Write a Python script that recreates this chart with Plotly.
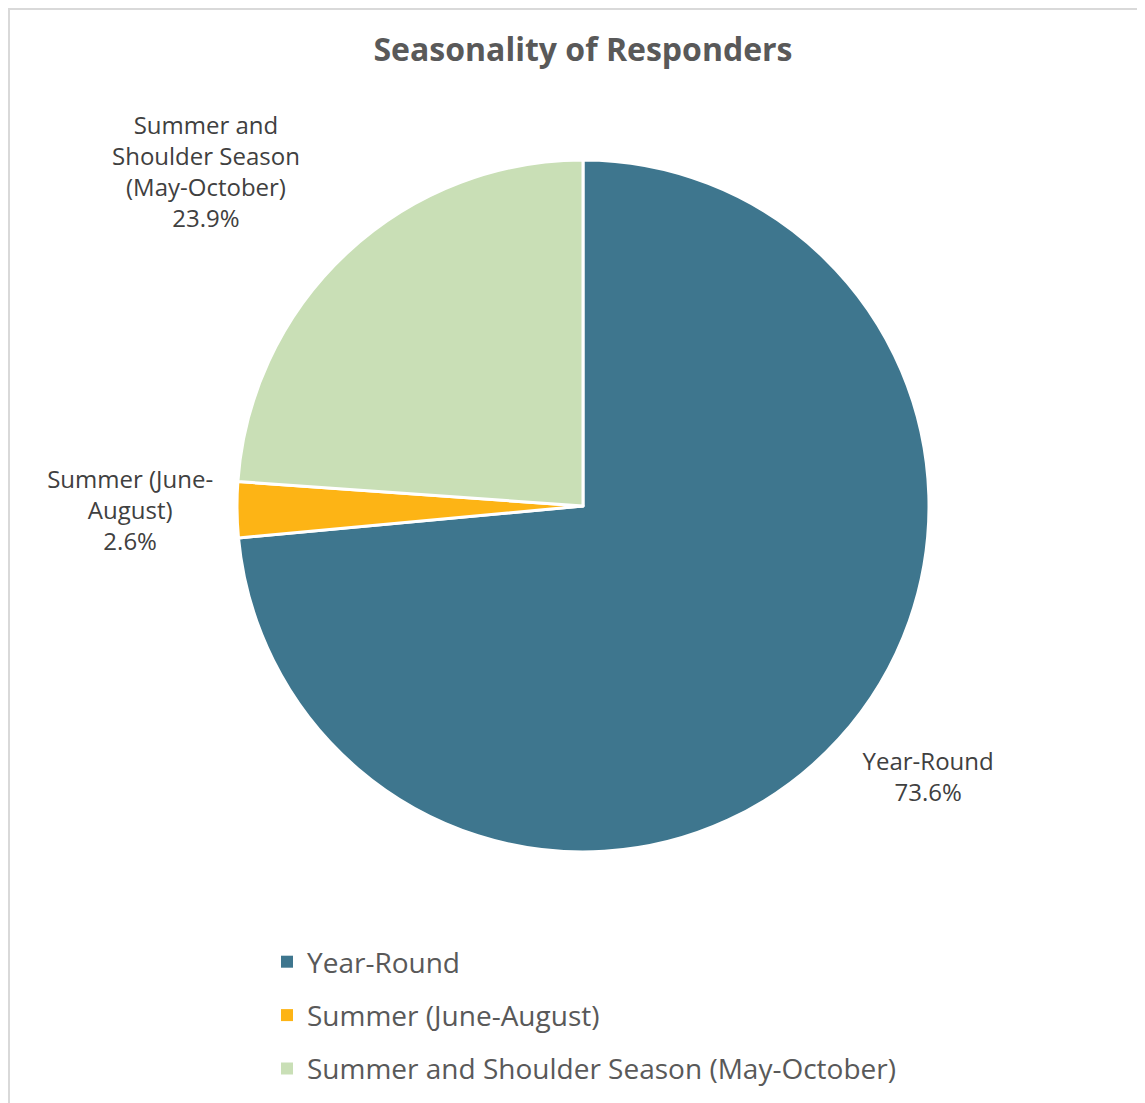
import plotly.graph_objects as go

categories = ["Year-Round", "Summer (June-August)", "Summer and Shoulder Season (May-October)"]
slice_text = ["Year-Round", "Summer (June-<br>August)", "Summer and<br>Shoulder Season<br>(May-October)"]
values = [73.6, 2.6, 23.9]
colors = ["#3E768E", "#FDB415", "#C9DFB6"]

W, H = 1145, 1103
OFF = 8  # page body margin

def px(x):
    return (x - OFF) / W

def py(y):
    return 1 - (y - OFF) / H

fig = go.Figure()

fig.add_trace(go.Pie(
    labels=categories,
    values=values,
    text=slice_text,
    texttemplate=["&nbsp;<br>%{text}<br>%{value:.1f}%",
                  "%{text}<br>%{value:.1f}%",
                  "%{text}<br>%{value:.1f}%<br>&nbsp;<br>&nbsp;"],
    textposition="outside",
    textfont=dict(family="Open Sans", size=24, color="#404040"),
    marker=dict(colors=colors, line=dict(color="white", width=3)),
    sort=False,
    direction="clockwise",
    rotation=0,
    showlegend=False,
    hoverinfo="label+value",
    domain=dict(x=[px(237), px(929)], y=[py(852), py(160)]),
    automargin=False,
))

for name, col in zip(categories, colors):
    fig.add_trace(go.Scatter(
        x=[None], y=[None], mode="markers", name=name,
        marker=dict(symbol="square", size=12, color=col),
        legendgroup=name, showlegend=True,
    ))

fig.update_layout(
    width=W, height=H,
    margin=dict(l=0, r=0, t=0, b=0),
    paper_bgcolor="white",
    plot_bgcolor="white",
    title=dict(text="<b>Seasonality of Responders</b>", x=px(583), xanchor="center",
               y=py(50), yanchor="middle",
               font=dict(family="Open Sans", size=32, color="#595959")),
    xaxis=dict(visible=False),
    yaxis=dict(visible=False),
    legend=dict(x=px(267), xanchor="left", y=py(937), yanchor="top",
                orientation="v", traceorder="grouped", tracegroupgap=14,
                font=dict(family="Open Sans", size=28, color="#595959"),
                bgcolor="rgba(0,0,0,0)"),
    shapes=[dict(type="rect", xref="paper", yref="paper",
                 x0=1 / W, x1=1.02, y0=-0.02, y1=1 - 1 / H,
                 line=dict(color="#D9D9D9", width=2), fillcolor="rgba(0,0,0,0)", layer="below")],
)

fig.write_html("out.html")
